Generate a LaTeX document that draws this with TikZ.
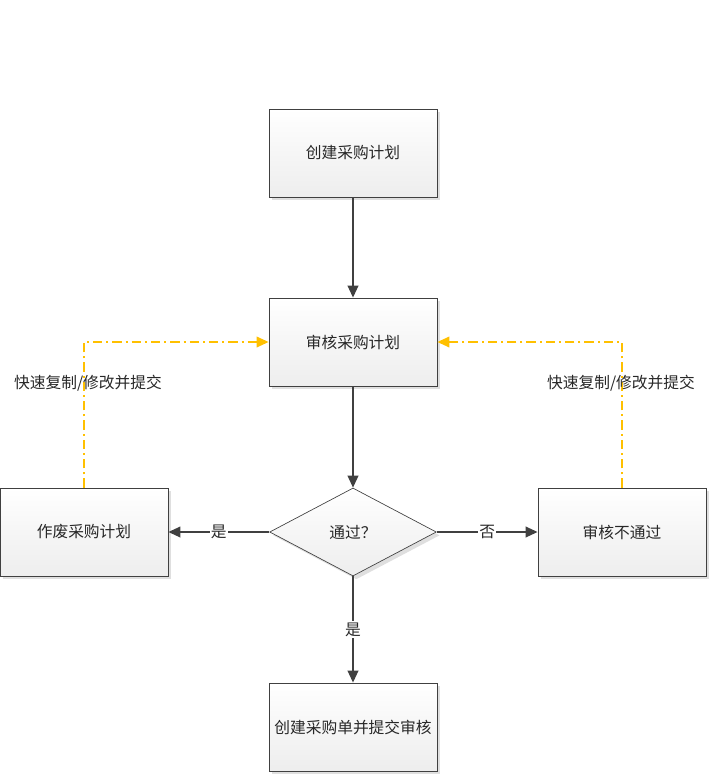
\documentclass[tikz,border=0pt]{standalone}
\usepackage{fontspec}
\setmainfont{Noto Sans CJK SC}
\usetikzlibrary{arrows.meta,shapes.geometric,positioning,calc,shadows}
\definecolor{mygray}{RGB}{64,64,64}
\definecolor{mytext}{RGB}{40,40,40}
\definecolor{myyellow}{RGB}{255,192,0}

\begin{document}
\begin{tikzpicture}[x=0.75pt,y=-0.75pt,
  wbox/.style={rectangle,draw=mygray,line width=0.6pt,minimum width=126pt,minimum height=66pt,
               top color=white,bottom color=gray!14,text=mytext,
               font=\fontsize{11.8pt}{14pt}\selectfont,
               drop shadow={shadow xshift=2.5pt,shadow yshift=-2.5pt,fill=gray,opacity=0.25}},
  wdiam/.style={diamond,draw=mygray,line width=0.5pt,minimum width=125pt,minimum height=66pt,
               inner sep=0pt,top color=white,bottom color=gray!14,text=mytext,
               font=\fontsize{11.8pt}{14pt}\selectfont,
               drop shadow={shadow xshift=2.5pt,shadow yshift=-2.5pt,fill=gray,opacity=0.25}},
  arrow/.style={-{Triangle[length=9pt,width=8pt]},line width=1.3pt,draw=mygray},
  back/.style={-{Triangle[length=9pt,width=8pt]},line width=1.2pt,draw=myyellow,
               dash pattern=on 7pt off 3pt on 1.5pt off 3pt},
  lbl/.style={fill=white,inner sep=1pt,text=mytext,font=\fontsize{11.8pt}{14pt}\selectfont},
  note/.style={inner sep=1pt,text=mytext,font=\fontsize{11.8pt}{14pt}\selectfont}]
\useasboundingbox (0,0) rectangle (710,776);
\node[wbox]  (plan)    at (353,153) {创建采购计划};
\node[wbox]  (review)  at (353,342) {审核采购计划};
\node[wdiam] (pass)    at (353,532) {通过？};
\node[wbox]  (discard) at (84,532)  {作废采购计划};
\node[wbox]  (reject)  at (622,532) {审核不通过};
\node[wbox]  (order)   at (353,727) {创建采购单并提交审核};
\draw[arrow] (plan) -- (review);
\draw[arrow] (review) -- (pass);
\draw[arrow] (pass) -- node[lbl] {是} (discard);
\draw[arrow] (pass) -- node[lbl] {否} (reject);
\draw[arrow] (pass) -- node[lbl] {是} (order);
\draw[back] (discard.north) |- (review.west);
\draw[back] (reject.north) |- (review.east);
\node[note] (copyl) at (88,383)  {快速复制/修改并提交};
\node[note] (copyr) at (621,383) {快速复制/修改并提交};
\end{tikzpicture}
\end{document}
